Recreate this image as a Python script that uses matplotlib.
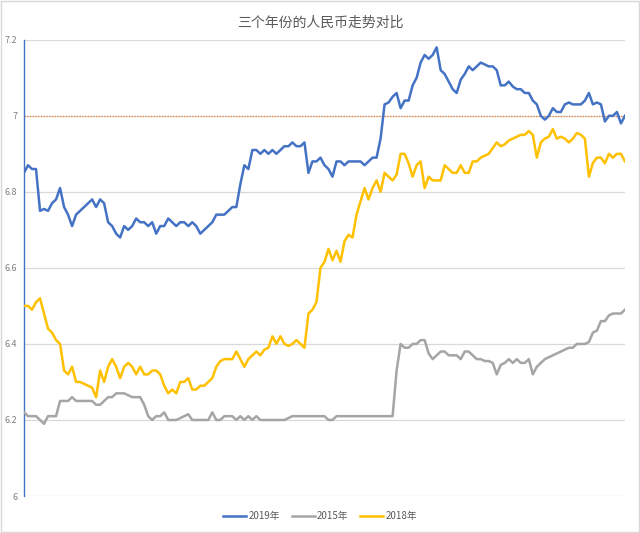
import matplotlib
matplotlib.use("Agg")
from matplotlib import pyplot as plt
from matplotlib.patches import Rectangle
import numpy as np

plt.rcParams['font.family'] = ['Noto Sans CJK SC', 'DejaVu Sans']

title = '三个年份的人民币走势对比'
labels = ['2019年', '2015年', '2018年']

rate_2019 = [
    6.85, 6.87, 6.86, 6.86, 6.75, 6.755, 6.75, 6.77, 6.78, 6.81,
    6.76, 6.74, 6.71, 6.74, 6.75, 6.76, 6.77, 6.78, 6.76, 6.78,
    6.77, 6.72, 6.71, 6.69, 6.68, 6.71, 6.70, 6.71, 6.73, 6.72,
    6.72, 6.71, 6.72, 6.69, 6.71, 6.71, 6.73, 6.72, 6.71, 6.72,
    6.72, 6.71, 6.72, 6.71, 6.69, 6.70, 6.71, 6.72, 6.74, 6.74,
    6.74, 6.75, 6.76, 6.76, 6.82, 6.87, 6.86, 6.91, 6.91, 6.90,
    6.91, 6.90, 6.91, 6.90, 6.91, 6.92, 6.92, 6.93, 6.92, 6.92,
    6.93, 6.85, 6.88, 6.88, 6.89, 6.87, 6.86, 6.84, 6.88, 6.88,
    6.87, 6.88, 6.88, 6.88, 6.88, 6.87, 6.88, 6.89, 6.89, 6.94,
    7.03, 7.035, 7.05, 7.06, 7.02, 7.04, 7.04, 7.08, 7.10, 7.14,
    7.16, 7.15, 7.16, 7.18, 7.12, 7.11, 7.09, 7.07, 7.06, 7.095,
    7.11, 7.13, 7.12, 7.13, 7.14, 7.135, 7.13, 7.13, 7.12, 7.08,
    7.08, 7.09, 7.077, 7.07, 7.07, 7.06, 7.06, 7.04, 7.03, 7.00,
    6.99, 7.00, 7.02, 7.01, 7.01, 7.03, 7.035, 7.03, 7.03, 7.03,
    7.04, 7.06, 7.03, 7.035, 7.03, 6.985, 7.00, 7.00, 7.01, 6.98,
    7.00,
]

rate_2015 = [
    6.22, 6.21, 6.21, 6.21, 6.20, 6.19, 6.21, 6.21, 6.21, 6.25,
    6.25, 6.25, 6.26, 6.25, 6.25, 6.25, 6.25, 6.25, 6.24, 6.24,
    6.25, 6.26, 6.26, 6.27, 6.27, 6.27, 6.265, 6.26, 6.26, 6.26,
    6.24, 6.21, 6.20, 6.21, 6.21, 6.22, 6.20, 6.20, 6.20, 6.205,
    6.21, 6.215, 6.20, 6.20, 6.20, 6.20, 6.20, 6.22, 6.20, 6.20,
    6.21, 6.21, 6.21, 6.20, 6.21, 6.20, 6.21, 6.20, 6.21, 6.20,
    6.20, 6.20, 6.20, 6.20, 6.20, 6.20, 6.205, 6.21, 6.21, 6.21,
    6.21, 6.21, 6.21, 6.21, 6.21, 6.21, 6.20, 6.20, 6.21, 6.21,
    6.21, 6.21, 6.21, 6.21, 6.21, 6.21, 6.21, 6.21, 6.21, 6.21,
    6.21, 6.21, 6.21, 6.33, 6.40, 6.39, 6.39, 6.40, 6.40, 6.41,
    6.41, 6.375, 6.36, 6.37, 6.38, 6.38, 6.37, 6.37, 6.37, 6.36,
    6.38, 6.38, 6.37, 6.36, 6.36, 6.355, 6.355, 6.35, 6.32, 6.345,
    6.35, 6.36, 6.35, 6.36, 6.35, 6.35, 6.36, 6.32, 6.34, 6.35,
    6.36, 6.365, 6.37, 6.375, 6.38, 6.385, 6.39, 6.39, 6.40, 6.40,
    6.40, 6.405, 6.43, 6.435, 6.46, 6.46, 6.475, 6.48, 6.48, 6.48,
    6.49,
]

rate_2018 = [
    6.50, 6.50, 6.49, 6.51, 6.52, 6.48, 6.44, 6.43, 6.41, 6.40,
    6.33, 6.32, 6.34, 6.30, 6.30, 6.295, 6.29, 6.285, 6.26, 6.33,
    6.30, 6.34, 6.36, 6.34, 6.31, 6.34, 6.35, 6.34, 6.32, 6.34,
    6.32, 6.32, 6.33, 6.33, 6.32, 6.29, 6.27, 6.28, 6.27, 6.30,
    6.30, 6.31, 6.28, 6.28, 6.29, 6.29, 6.30, 6.31, 6.34, 6.355,
    6.36, 6.36, 6.36, 6.38, 6.36, 6.34, 6.36, 6.37, 6.38, 6.37,
    6.385, 6.39, 6.42, 6.40, 6.42, 6.40, 6.395, 6.40, 6.41, 6.40,
    6.39, 6.48, 6.49, 6.51, 6.60, 6.616, 6.65, 6.62, 6.645, 6.616,
    6.67, 6.687, 6.68, 6.74, 6.775, 6.81, 6.78, 6.81, 6.83, 6.80,
    6.85, 6.84, 6.83, 6.845, 6.90, 6.90, 6.875, 6.84, 6.87, 6.88,
    6.81, 6.84, 6.83, 6.83, 6.83, 6.87, 6.86, 6.85, 6.85, 6.87,
    6.85, 6.85, 6.88, 6.88, 6.89, 6.895, 6.90, 6.915, 6.93, 6.92,
    6.925, 6.935, 6.94, 6.945, 6.95, 6.95, 6.96, 6.95, 6.89, 6.93,
    6.94, 6.945, 6.965, 6.94, 6.945, 6.94, 6.93, 6.94, 6.955, 6.95,
    6.94, 6.84, 6.876, 6.89, 6.89, 6.875, 6.90, 6.89, 6.90, 6.90,
    6.88,
]

yticks = [6, 6.2, 6.4, 6.6, 6.8, 7, 7.2]
ytick_labels = ['6', '6.2', '6.4', '6.6', '6.8', '7', '7.2']
threshold = 7

fig = plt.figure(figsize=(6.4, 5.33), dpi=100)
fig.patches.append(Rectangle((0.002, 0.002), 0.996, 0.996, transform=fig.transFigure,
                             fill=False, edgecolor='#D9D9D9', linewidth=1))
ax = fig.add_axes([0.0375, 0.0694, 0.939, 0.856])

days = np.arange(len(rate_2019))
ax.plot(days, rate_2019, color='#4472C4', lw=1.8, label=labels[0], zorder=4)
ax.plot(days, rate_2015, color='#A5A5A5', lw=1.8, label=labels[1], zorder=3)
ax.plot(days, rate_2018, color='#FFC000', lw=1.8, label=labels[2], zorder=3)
ax.axhline(threshold, color='#ED7D31', lw=0.9, ls=(0, (1, 1.2)), zorder=2)

ax.set_xlim(0, len(days) - 1)
ax.set_ylim(6, 7.2)
ax.set_xticks([])
ax.set_yticks(yticks)
ax.set_yticklabels(ytick_labels)
ax.tick_params(axis='y', length=0, labelsize=6.5, colors='#7F7F7F', pad=5)
ax.grid(axis='y', color='#D9D9D9', lw=0.9)
ax.set_axisbelow(True)
for s in ['top', 'right', 'bottom']:
    ax.spines[s].set_visible(False)
ax.spines['left'].set_color('#4472C4')
ax.spines['left'].set_linewidth(1)

fig.suptitle(title, y=0.97, fontsize=10, color='#595959')
fig.legend(loc='center', bbox_to_anchor=(0.5, 0.031), ncol=3, frameon=False,
           fontsize=7, labelcolor='#595959', handlelength=2.4, handletextpad=0.2,
           columnspacing=1.2)

fig.savefig('out.png', dpi=100)
